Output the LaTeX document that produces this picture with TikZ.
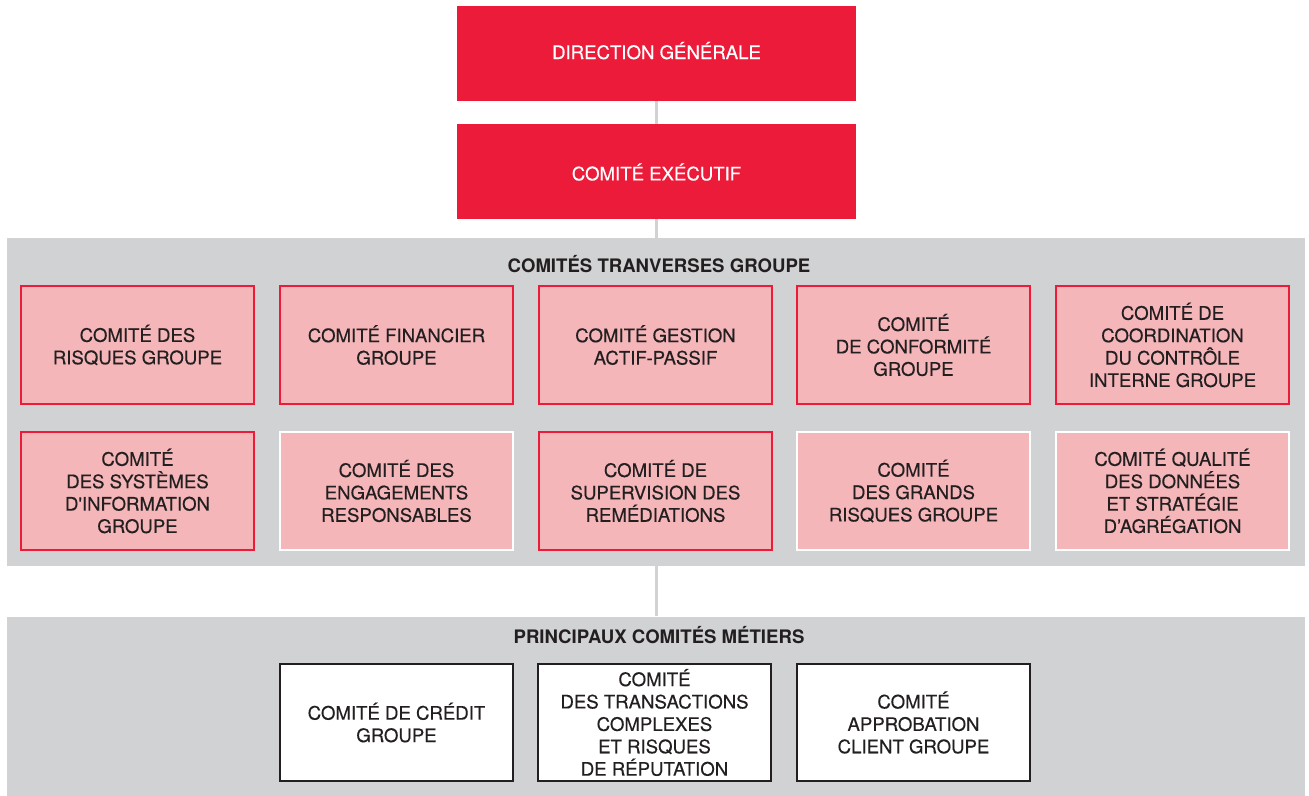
\documentclass[tikz,border=0pt]{standalone}
\usepackage{fontspec}
\setmainfont{TeX Gyre Heros}
\newfontfamily\mediumfont{TeX Gyre Heros}[FakeBold=0.35]
\definecolor{sgred}{HTML}{ED1B3A}
\definecolor{sgpink}{HTML}{F4B6B9}
\definecolor{sggray}{HTML}{D1D2D4}
\definecolor{sgtext}{HTML}{231F20}
\tikzset{
  band/.style={fill=sggray, draw=none, minimum width=649pt, inner sep=0pt},
  topbox/.style={fill=sgred, text=white, minimum width=199.5pt, minimum height=47.5pt, inner sep=0pt},
  redbox/.style={fill=sgpink, draw=sgred, line width=1pt, minimum width=116.5pt, minimum height=59pt, inner sep=0pt, text=sgtext},
  whitebox/.style={redbox, draw=white},
  metierbox/.style={fill=white, draw=sgtext, line width=1pt, minimum width=116.5pt, minimum height=58.5pt, inner sep=0pt, text=sgtext},
  bandtitle/.style={font=\fontsize{9.3}{11.2}\selectfont\bfseries, text=sgtext},
  link/.style={draw=sggray, line width=1.5pt}
}
\begin{document}
\begin{tikzpicture}[x=0.5pt, y=-0.5pt, every node/.style={align=center, font=\fontsize{9.3}{11.2}\selectfont\mediumfont}]
  \useasboundingbox (0,0) rectangle (1309,796);
  % grey bands
  \node[band, minimum height=164pt] (transverse) at (656,402) {};
  \node[band, minimum height=90pt]  (metiers)    at (656,706.5) {};
  % connectors
  \draw[link] (656,101) coordinate (dgfoot) -- (656,124) coordinate (comexhead);
  \draw[link] (656,219) coordinate (comexfoot) -- (transverse.north);
  \draw[link] (transverse.south) -- (metiers.north);
  % direction
  \node[topbox] (direction) at (656.5,53.5) {\raisebox{3pt}{DIRECTION GÉNÉRALE}};
  \node[topbox] (comex)     at (656.5,172)  {COMITÉ EXÉCUTIF};
  % transverse committees
  \node[bandtitle] (transversetitle) at (659,264) {COMITÉS TRANVERSES GROUPE};
  \node[redbox]   (risques)     at (137.5,345)  {COMITÉ DES\\RISQUES GROUPE};
  \node[redbox]   (financier)   at (396.5,345)  {COMITÉ FINANCIER\\GROUPE};
  \node[redbox]   (alm)         at (655.5,345)  {COMITÉ GESTION\\ACTIF-PASSIF};
  \node[redbox]   (conformite)  at (913.5,345)  {COMITÉ\\DE CONFORMITÉ\\GROUPE};
  \node[redbox]   (controle)    at (1172.5,345) {COMITÉ DE\\COORDINATION\\DU CONTRÔLE\\INTERNE GROUPE};
  \node[redbox]   (systemes)    at (137.5,491)  {COMITÉ\\DES SYSTÈMES\\D'INFORMATION\\GROUPE};
  \node[whitebox] (engagements) at (396.5,491)  {COMITÉ DES\\ENGAGEMENTS\\RESPONSABLES};
  \node[redbox]   (remediation) at (655.5,491)  {COMITÉ DE\\SUPERVISION DES\\REMÉDIATIONS};
  \node[whitebox] (grandsrisq)  at (913.5,491)  {COMITÉ\\DES GRANDS\\RISQUES GROUPE};
  \node[whitebox] (donnees)     at (1172.5,491) {COMITÉ QUALITÉ\\DES DONNÉES\\ET STRATÉGIE\\D’AGRÉGATION};
  % business committees
  \node[bandtitle] (metierstitle) at (659,635) {PRINCIPAUX COMITÉS MÉTIERS};
  \node[metierbox] (credit)       at (396.5,722.5) {COMITÉ DE CRÉDIT\\GROUPE};
  \node[metierbox] (transactions) at (654.5,722.5) {COMITÉ\\DES TRANSACTIONS\\COMPLEXES\\ET RISQUES\\DE RÉPUTATION};
  \node[metierbox] (approbation)  at (913.5,722.5) {COMITÉ\\APPROBATION\\CLIENT GROUPE};
\end{tikzpicture}
\end{document}
